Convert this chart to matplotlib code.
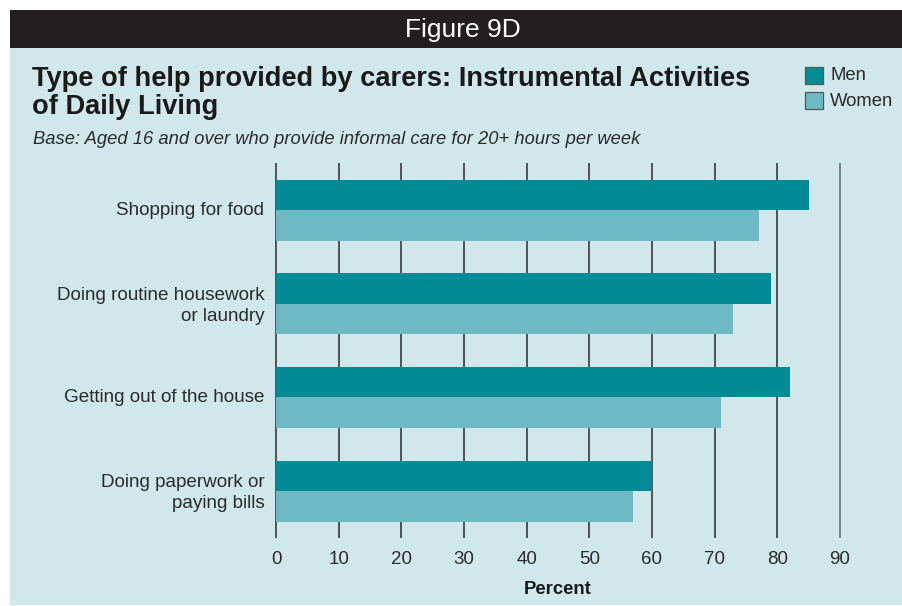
import matplotlib
matplotlib.use("Agg")
import matplotlib.pyplot as plt
from matplotlib.patches import Rectangle
import numpy as np

categories = ["Shopping for food", "Doing routine housework\nor laundry",
              "Getting out of the house", "Doing paperwork or\npaying bills"]
men = [85, 79, 82, 60]
women = [77, 73, 71, 57]
xticks = [0, 10, 20, 30, 40, 50, 60, 70, 80, 90]

C_MEN = "#008B96"
C_WOMEN = "#6DBAC4"
BG = "#D0E7EB"
HEAD = "#231F20"
TXT = "#2B2B2B"

plt.rcParams['font.family'] = ['Liberation Sans', 'DejaVu Sans']

W, H = 902, 606
fig = plt.figure(figsize=(W/100, H/100), dpi=100)
fig.patch.set_facecolor("white")

def fx(px): return px / W
def fy(py): return 1 - py / H

# panel and header
fig.patches.append(Rectangle((fx(10), fy(605)), fx(902)-fx(10), fy(48)-fy(605),
                             transform=fig.transFigure, facecolor=BG, edgecolor='none', zorder=-2))
fig.patches.append(Rectangle((fx(10), fy(48)), fx(902)-fx(10), fy(10)-fy(48),
                             transform=fig.transFigure, facecolor=HEAD, edgecolor='none', zorder=-2))
fig.text(fx(463), fy(30), "Figure 9D", color="white", fontsize=19, ha='center', va='center')

fig.text(fx(32), fy(66), "Type of help provided by carers: Instrumental Activities\nof Daily Living",
         fontsize=19.6, fontweight='bold', color="#1A1A1A", ha='left', va='top',
         linespacing=1.12)
fig.text(fx(33), fy(140), "Base: Aged 16 and over who provide informal care for 20+ hours per week",
         fontsize=13.2, style='italic', color=TXT, ha='left', va='center')

# axes
pad = 0.3
x0 = 276 - pad * (840 - 276) / 90
x1 = 840 + pad * (840 - 276) / 90
ax = fig.add_axes([fx(x0), fy(538), fx(x1) - fx(x0), fy(163) - fy(538)])
ax.set_facecolor('none')
ax.set_xlim(-pad, 90 + pad)
ax.set_ylim(3.502, -0.505)

y = np.arange(len(categories))
bh = 0.326
ax.barh(y - bh/2, men, height=bh, color=C_MEN, zorder=3, label="Men")
ax.barh(y + bh/2, women, height=bh, color=C_WOMEN, zorder=3, label="Women")

for t in xticks:
    ax.axvline(t, color="#6E6E6E" if t == 90 else "#3A3A3A", lw=1.2, zorder=1)

for s in ax.spines.values():
    s.set_visible(False)
ax.set_xticks(xticks)
ax.set_xticklabels([str(t) for t in xticks])
ax.tick_params(axis='x', length=0, pad=9, labelsize=13.5, labelcolor=TXT)
ax.set_yticks(y - 0.02)
ax.set_yticklabels(categories, ha='right', fontsize=13.6, color=TXT, linespacing=1.32)
ax.tick_params(axis='y', length=0, pad=7)
ax.set_xlabel("Percent", fontsize=13.3, fontweight='bold', color="#1A1A1A", labelpad=10)

# legend
for i, (lab, c) in enumerate([("Men", C_MEN), ("Women", C_WOMEN)]):
    top = 67 + i * 25
    fig.patches.append(Rectangle((fx(805), fy(top + 17)), fx(823) - fx(805), fy(top) - fy(top + 17),
                                 transform=fig.transFigure, facecolor=c, edgecolor="#555555",
                                 lw=0.9, zorder=2))
    fig.text(fx(830), fy(top + 9), lab, fontsize=13.3, color=TXT, ha='left', va='center')

fig.savefig("out.png", dpi=100, facecolor=fig.get_facecolor())
